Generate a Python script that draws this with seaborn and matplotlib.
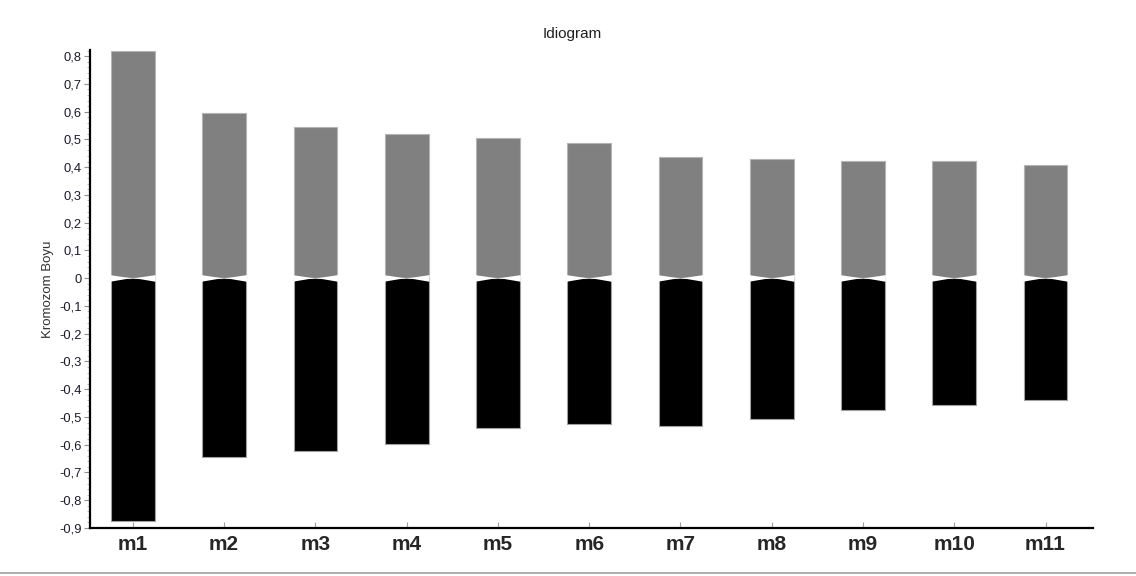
import matplotlib
matplotlib.use("Agg")
import matplotlib.pyplot as plt
from matplotlib.patches import Polygon
from matplotlib.lines import Line2D
from matplotlib.ticker import FixedLocator, MultipleLocator
import seaborn as sns
import numpy as np

# ---- data ----
chromosomes = ["m1", "m2", "m3", "m4", "m5", "m6", "m7", "m8", "m9", "m10", "m11"]
short_arm = [0.818, 0.594, 0.543, 0.521, 0.506, 0.488, 0.436, 0.429, 0.422, 0.422, 0.407]
long_arm = [0.875, 0.646, 0.621, 0.599, 0.538, 0.524, 0.533, 0.509, 0.476, 0.456, 0.439]
y_ticks = [-0.9, -0.8, -0.7, -0.6, -0.5, -0.4, -0.3, -0.2, -0.1, 0.0,
           0.1, 0.2, 0.3, 0.4, 0.5, 0.6, 0.7, 0.8]
title = "Idiogram"
y_label = "Kromozom Boyu"

sns.set_style("white")
plt.rcParams["font.family"] = ["Liberation Sans", "DejaVu Sans"]

fig = plt.figure(figsize=(11.36, 5.76), dpi=100)
ax = fig.add_axes([90 / 1136, 1 - 528 / 576, (1093 - 90) / 1136, (528 - 50) / 576])

bar_w = 0.48
sns.barplot(x=chromosomes, y=short_arm, color="#808080", saturation=1, width=bar_w,
            edgecolor="#b4b4b4", linewidth=0.8, ax=ax)
n_gray = len(ax.patches)
sns.barplot(x=chromosomes, y=[-v for v in long_arm], color="black", saturation=1,
            width=bar_w, edgecolor="#a0a0a0", linewidth=0.8, ax=ax)

# centromere notches (white wedges derived from bar geometry)
d_up, d_dn = 0.011, 0.013
for i, p in enumerate(ax.patches[:]):
    x0, w = p.get_x(), p.get_width()
    xc = x0 + w / 2
    e = 0.01
    if i < n_gray:
        tri1 = [(x0 - e, -0.001), (x0 - e, d_up), (xc, -0.001)]
        tri2 = [(x0 + w + e, -0.001), (x0 + w + e, d_up), (xc, -0.001)]
    else:
        tri1 = [(x0 - e, 0.001), (x0 - e, -d_dn), (xc, 0.001)]
        tri2 = [(x0 + w + e, 0.001), (x0 + w + e, -d_dn), (xc, 0.001)]
    for t in (tri1, tri2):
        ax.add_patch(Polygon(t, closed=True, facecolor="white", edgecolor="none", zorder=5))

ax.set_xlim(-0.47, 10.52)
ax.set_ylim(-0.9, 0.822)

ax.yaxis.set_major_locator(FixedLocator(y_ticks))
ax.set_yticklabels(["0" if abs(v) < 1e-9 else f"{v:.1f}".replace(".", ",") for v in y_ticks])
ax.yaxis.set_minor_locator(MultipleLocator(0.02))

for s in ["top", "right"]:
    ax.spines[s].set_visible(False)
for s in ["left", "bottom"]:
    ax.spines[s].set_color("black")
    ax.spines[s].set_linewidth(1.6)

ax.tick_params(axis="y", which="major", direction="out", length=4, width=0.8,
               color="#909090", labelsize=9.3, labelcolor="#1a1a2a", pad=2, left=True)
ax.tick_params(axis="y", which="minor", direction="out", length=2, width=0.6,
               color="#b0b0b0", left=True)
ax.tick_params(axis="x", which="major", direction="in", length=4, width=0.8,
               color="#a0a0a0", labelsize=15, pad=5, bottom=True)
for lab in ax.get_xticklabels():
    lab.set_fontweight("bold")

ax.set_xlabel("")
ax.set_ylabel(y_label, fontsize=9.5, color="#303030")
ax.yaxis.set_label_coords(-0.036, 0.5)

fig.text(572 / 1136, 1 - 34 / 576, title, ha="center", va="center", fontsize=11, color="#202020")

fig.add_artist(Line2D([0, 1], [1 - 573 / 576, 1 - 573 / 576], transform=fig.transFigure,
                      color="#a0a0a0", linewidth=1.2))

fig.savefig("out.png", dpi=100, facecolor="white")
